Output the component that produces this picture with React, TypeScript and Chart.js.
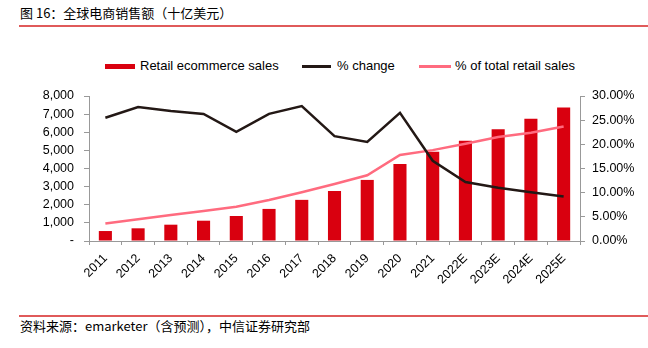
import React, { useEffect, useRef } from "react";
import { Chart, registerables } from "chart.js";

Chart.register(...registerables);

const categories = ["2011", "2012", "2013", "2014", "2015", "2016", "2017", "2018", "2019", "2020", "2021", "2022E", "2023E", "2024E", "2025E"];
const salesValues = [550, 700, 900, 1120, 1380, 1770, 2270, 2760, 3370, 4250, 4920, 5530, 6170, 6740, 7360];
const changeValues = [25.5, 27.7, 26.9, 26.3, 22.6, 26.3, 27.9, 21.7, 20.5, 26.5, 16.6, 12.2, 11.0, 10.1, 9.2];
const shareValues = [3.6, 4.5, 5.4, 6.2, 7.1, 8.5, 10.1, 11.8, 13.6, 17.8, 18.8, 20.1, 21.5, 22.4, 23.7];
const leftTicks = [0, 1000, 2000, 3000, 4000, 5000, 6000, 7000, 8000];
const rightTicks = [0, 5, 10, 15, 20, 25, 30];

const seriesNames = ["Retail ecommerce sales", "% change", "% of total retail sales"];
const title = "图 16：全球电商销售额（十亿美元）";
const source = "资料来源：emarketer（含预测），中信证券研究部";

const RED = "#d9000f";
const BLACK = "#231815";
const PINK = "#ff6b7f";
const LATIN = "'Liberation Sans', Arial, sans-serif";
const CJK = "'Noto Sans CJK SC', 'Liberation Sans', sans-serif";

export default function App() {
  const ref = useRef<HTMLCanvasElement | null>(null);

  useEffect(() => {
    if (!ref.current) return;
    const chart = new Chart(ref.current, {
      type: "bar",
      data: {
        labels: categories,
        datasets: [
          {
            type: "line",
            label: seriesNames[1],
            data: changeValues,
            yAxisID: "y1",
            borderColor: BLACK,
            backgroundColor: BLACK,
            borderWidth: 2.5,
            pointRadius: 0,
            tension: 0,
            order: 1,
          },
          {
            type: "line",
            label: seriesNames[2],
            data: shareValues,
            yAxisID: "y1",
            borderColor: PINK,
            backgroundColor: PINK,
            borderWidth: 2.5,
            pointRadius: 0,
            tension: 0,
            order: 2,
          },
          {
            type: "bar",
            label: seriesNames[0],
            data: salesValues,
            yAxisID: "y",
            backgroundColor: RED,
            barPercentage: 0.4,
            categoryPercentage: 1,
            order: 3,
          },
        ],
      },
      options: {
        responsive: false,
        animation: false,
        devicePixelRatio: 1,
        layout: { padding: { top: 66, bottom: 0, left: 0, right: 0 } },
        plugins: {
          legend: { display: false },
          tooltip: { enabled: false },
          title: { display: false },
        },
        scales: {
          x: {
            offset: true,
            grid: { offset: true, drawOnChartArea: false, tickLength: 4, color: "#999" },
            border: { display: true, color: "#999" },
            ticks: {
              color: "#000",
              font: { family: LATIN, size: 12.5 },
              minRotation: 45,
              maxRotation: 45,
              padding: 6,
              autoSkip: false,
            },
            afterFit: (s: any) => {
              s.height = 71;
            },
          },
          y: {
            position: "left",
            min: 0,
            max: 8000,
            afterBuildTicks: (s: any) => {
              s.ticks = leftTicks.map((v) => ({ value: v }));
            },
            grid: { drawOnChartArea: false, tickLength: 5, color: "#999" },
            border: { display: true, color: "#999" },
            ticks: {
              color: "#000",
              font: { family: LATIN, size: 12.5 },
              padding: 10,
              callback: (v: any) => (Number(v) === 0 ? "-" : Number(v).toLocaleString("en-US")),
            },
            afterFit: (s: any) => {
              s.width = 89;
            },
          },
          y1: {
            position: "right",
            min: 0,
            max: 30,
            afterBuildTicks: (s: any) => {
              s.ticks = rightTicks.map((v) => ({ value: v }));
            },
            grid: { drawOnChartArea: false, tickLength: 5, color: "#999" },
            border: { display: true, color: "#999" },
            ticks: {
              color: "#000",
              font: { family: LATIN, size: 12.5 },
              padding: 7,
              callback: (v: any) => Number(v).toFixed(2) + "%",
            },
            afterFit: (s: any) => {
              s.width = 68;
            },
          },
        },
      },
    });
    return () => chart.destroy();
  }, []);

  const legendText: React.CSSProperties = {
    position: "absolute",
    top: 58,
    fontFamily: LATIN,
    fontSize: 13,
    lineHeight: "16px",
    color: "#000",
    whiteSpace: "nowrap",
  };

  return (
    <div style={{ position: "fixed", left: 0, top: 0, width: 648, height: 348, background: "#fff", overflow: "hidden" }}>
      <div style={{ position: "absolute", left: 20, top: 5, fontFamily: CJK, fontSize: 13, lineHeight: "16px", color: "#000", whiteSpace: "nowrap" }}>
        {title}
      </div>
      <div style={{ position: "absolute", left: 19, top: 25, width: 629, height: 1.5, background: "#e05a5a" }} />

      <div style={{ position: "absolute", left: 105, top: 64, width: 30, height: 5, background: RED }} />
      <div style={{ ...legendText, left: 140 }}>{seriesNames[0]}</div>
      <div style={{ position: "absolute", left: 302, top: 65, width: 29, height: 3, background: BLACK }} />
      <div style={{ ...legendText, left: 337 }}>{seriesNames[1]}</div>
      <div style={{ position: "absolute", left: 419, top: 65, width: 32, height: 3, background: PINK }} />
      <div style={{ ...legendText, left: 455 }}>{seriesNames[2]}</div>

      <canvas ref={ref} width={648} height={282} style={{ position: "absolute", left: 0, top: 30, width: 648, height: 282 }} />

      <div style={{ position: "absolute", left: 19, top: 315, width: 629, height: 1.5, background: "#e05a5a" }} />
      <div style={{ position: "absolute", left: 20, top: 318, fontFamily: CJK, fontSize: 13, lineHeight: "16px", color: "#000", whiteSpace: "nowrap" }}>
        {source}
      </div>
    </div>
  );
}
